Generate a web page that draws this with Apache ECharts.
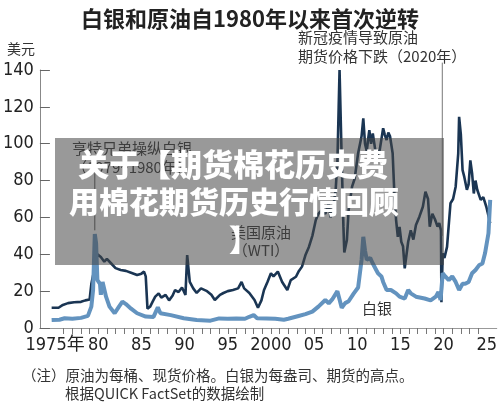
<!DOCTYPE html>
<html>
<head>
<meta charset="utf-8">
<script src="https://cdn.jsdelivr.net/npm/echarts@6/dist/echarts.min.js"></script>
<style>
    html, body { margin: 0; padding: 0; background: #fff; }
    #silverOilCharts { width: 500px; height: 405px; }
</style>
</head>
<body>
<div id="silverOilCharts"></div>
<script>
    // 美国原油（WTI）每桶价格，年份为小数
    const oilYears = [1974.6, 1975.4, 1975.9, 1976.5, 1977.2, 1978.0, 1978.5, 1979.0, 1979.2, 1979.6, 1979.9,
        1980.3, 1980.7, 1981.0, 1981.5, 1982.0, 1982.6, 1983.2, 1983.8, 1984.5, 1985.0, 1985.3, 1985.5, 1985.7,
        1986.0, 1986.3, 1986.6, 1987.0, 1987.3, 1987.8, 1988.2, 1988.6, 1988.9, 1989.3, 1989.7, 1990.1, 1990.3,
        1990.6, 1991.0, 1991.4, 1991.9, 1992.6, 1993.1, 1993.5, 1994.1, 1994.5, 1995.0, 1995.6, 1996.2, 1996.6,
        1996.9, 1997.5, 1998.1, 1998.5, 1998.9, 1999.2, 1999.6, 2000.0, 2000.3, 2000.8, 2001.3, 2001.9, 2002.3,
        2002.9, 2003.2, 2003.6, 2004.0, 2004.4, 2004.8, 2005.2, 2005.5, 2005.9, 2006.3, 2006.7, 2006.9, 2007.2,
        2007.5, 2007.7, 2007.85, 2007.95, 2008.2, 2008.4, 2008.5, 2008.8, 2009.0, 2009.4, 2009.7, 2010.1, 2010.5,
        2010.7, 2010.9, 2011.1, 2011.3, 2011.4, 2011.6, 2011.8, 2012.2, 2012.6, 2013.0, 2013.2, 2013.4, 2013.6,
        2013.8, 2013.95, 2014.1, 2014.3, 2014.5, 2014.7, 2014.9, 2015.1, 2015.3, 2015.5, 2015.9, 2016.2, 2016.5,
        2016.8, 2017.2, 2017.6, 2017.9, 2018.2, 2018.4, 2018.7, 2019.0, 2019.3, 2019.5, 2019.7, 2019.75, 2019.9,
        2020.1, 2020.4, 2020.8, 2021.1, 2021.4, 2021.7, 2021.8, 2022.0, 2022.2, 2022.4, 2022.7, 2022.9, 2023.1,
        2023.3, 2023.5, 2023.7, 2023.9, 2024.3, 2024.6, 2024.95, 2025.4]
    const oilPrices = [11, 11, 12.5, 13.5, 14, 14.2, 15, 15.5, 24, 33, 40,
        38.5, 36, 37.5, 35, 32.5, 31.5, 31, 30, 28.8, 29.5, 30.6, 28, 10.5,
        11.5, 14.3, 17, 18.8, 16.5, 18, 15, 17.5, 20.6, 19.5, 22, 18, 39.6,
        25, 21.5, 19, 21.5, 20, 18, 15.2, 18, 19, 20, 20.6, 21.5, 25,
        21.5, 19, 15.2, 11, 15, 20.6, 25, 29.7, 28, 30.6, 25, 20.6, 26,
        27.8, 30.6, 33.3, 39.6, 44, 50, 58.6, 62, 64, 62, 67.7, 60, 65,
        75, 90, 120, 140, 91, 55, 41, 47.7, 64, 76.7, 81, 94.8, 104,
        113.8, 100, 96, 103.8, 107.4, 100, 105.6, 93, 96.5, 108.4, 104.7, 102, 106,
        104, 105, 94.8, 73, 58.6, 49.5, 54.8, 46.8, 44.4, 32.4, 46.8, 53, 48,
        55.9, 60.4, 65.8, 74, 70, 55, 62, 59, 55, 57, 53, 14, 40.5,
        38, 44, 67.7, 70, 76.7, 94.8, 114.6, 105, 85.7, 82, 75, 78, 91,
        84, 73, 80, 75, 69.5, 71, 65.8, 56.8]

    // 白银每盎司期货高点
    const silverYears = [1974.6, 1975.5, 1976.1, 1977.0, 1978.0, 1978.8, 1979.2, 1979.4, 1979.6, 1979.75, 1979.9,
        1980.2, 1980.3, 1980.5, 1980.9, 1981.3, 1981.9, 1982.4, 1982.8, 1983.2, 1983.8, 1984.5, 1985.5, 1986.4,
        1986.9, 1987.2, 1988.4, 1989.9, 1991.4, 1993.0, 1994.0, 1995.0, 1996.0, 1997.0, 1997.5, 1998.0, 1998.4,
        1999.5, 2000.5, 2001.5, 2002.0, 2003.2, 2004.0, 2004.8, 2005.5, 2006.3, 2006.7, 2007.1, 2007.7, 2008.2,
        2008.6, 2009.0, 2009.6, 2010.1, 2010.5, 2010.7, 2010.9, 2011.1, 2011.5, 2011.8, 2012.4, 2012.8, 2013.0,
        2013.4, 2013.9, 2014.5, 2014.9, 2015.5, 2015.9, 2016.2, 2016.8, 2017.8, 2018.5, 2019.1, 2019.4, 2019.65,
        2019.9, 2020.2, 2020.6, 2021.0, 2021.4, 2021.8, 2022.2, 2022.5, 2022.9, 2023.3, 2023.7, 2024.1, 2024.5,
        2024.8, 2025.2, 2025.4]
    const silverPrices = [4.3, 4.5, 5.3, 5, 5.5, 6.6, 11.6, 20.6, 51, 46, 26,
        24, 18, 25, 17, 11.6, 8, 11.6, 14.3, 13, 10.5, 8, 6.2, 6,
        11.2, 8, 7, 5.3, 4.3, 4, 5.2, 5, 5.2, 5, 6.1, 7, 5.3,
        5.2, 5, 4.5, 5, 6.5, 7.5, 8.9, 11.6, 15.2, 13.4, 15.5, 20, 11,
        13.5, 14.5, 18.8, 22, 36.9, 49.5, 42, 37, 38, 35, 29.7, 28, 25,
        20.6, 20.6, 18.8, 17, 16, 20.6, 18.8, 17, 16, 15, 17, 19.5, 15.2,
        29.7, 28, 26, 28, 25, 20.6, 24, 24, 25, 29.7, 31.5, 34, 35,
        40.5, 51.4, 69.5]

    // 坐标轴刻度
    const yearTicks = []
    for (let y = 1976; y <= 2024; y++) yearTicks.push(y)
    const yearLabels = [1975, 1980, 1985, 1990, 1995, 2000, 2005, 2010, 2015, 2020, 2025]
    const yearLabelText = ['1975年', '80', '85', '90', '95', '2000', '05', '10', '15', '20', '25']
    const yTicks = [0, 20, 40, 60, 80, 100, 120, 140]

    const numFont = '"Liberation Sans Narrow", "DejaVu Sans Condensed", "Noto Sans CJK SC", sans-serif'
    const cjkFont = '"Noto Sans CJK SC", sans-serif'

    const _silverOilCharts = {
        animation: false,
        title: {
            text: '白银和原油自1980年以来首次逆转',
            left: 'center',
            top: 3,
            textStyle: {
                fontSize: 22,
                fontWeight: 'bold',
                color: '#222',
                fontFamily: cjkFont
            }
        },
        grid: {
            left: 38,
            right: 0,
            top: 70,
            bottom: 77
        },
        xAxis: {
            type: 'value',
            min: 1973.24,
            max: 2026.16,
            splitLine: {show: false},
            axisLine: {
                onZero: false,
                lineStyle: {color: '#999', width: 1}
            },
            axisTick: {
                customValues: yearTicks,
                length: 6,
                lineStyle: {color: '#777'}
            },
            axisLabel: {
                customValues: yearLabels,
                formatter: function (v) {
                    return yearLabelText[yearLabels.indexOf(Math.round(v))]
                },
                fontSize: 18,
                margin: 8,
                color: '#222',
                fontFamily: numFont
            }
        },
        yAxis: {
            type: 'value',
            min: 0,
            max: 140,
            interval: 20,
            splitLine: {show: false},
            axisLine: {
                show: true,
                lineStyle: {color: '#888', width: 1}
            },
            axisTick: {
                show: true,
                inside: true,
                length: 10,
                lineStyle: {color: '#666'}
            },
            axisLabel: {
                customValues: yTicks,
                fontSize: 18,
                margin: 6,
                color: '#222',
                fontFamily: numFont
            }
        },
        series: [
            {
                name: '美国原油（WTI）',
                type: 'line',
                showSymbol: false,
                data: oilYears.map((y, i) => [y, oilPrices[i]]),
                lineStyle: {color: '#1a3553', width: 2.6},
                z: 2
            },
            {
                name: '白银',
                type: 'line',
                showSymbol: false,
                data: silverYears.map((y, i) => [y, silverPrices[i]]),
                lineStyle: {color: '#6393bf', width: 4},
                z: 3
            }
        ]
    }

    const chart = echarts.init(document.getElementById('silverOilCharts'))
    chart.setOption(_silverOilCharts)

    // 注释线，按数据坐标换算
    const hunt = silverYears[silverPrices.indexOf(Math.max.apply(null, silverPrices.slice(0, 20)))]
    const huntBottom = chart.convertToPixel({gridIndex: 0}, [hunt, 53])
    const huntTop = chart.convertToPixel({gridIndex: 0}, [hunt, 84])
    const covidX = 2019.85
    const covidBottom = chart.convertToPixel({gridIndex: 0}, [covidX, 50])
    const covidTop = chart.convertToPixel({gridIndex: 0}, [covidX, 144])

    const noteStyle = {fontSize: 15, fill: '#333', fontFamily: cjkFont}
    chart.setOption({
        graphic: [
            {type: 'line', shape: {x1: huntBottom[0], y1: huntBottom[1], x2: huntTop[0], y2: huntTop[1]},
                style: {stroke: '#555', lineWidth: 1}, z: 10},
            {type: 'line', shape: {x1: covidBottom[0], y1: covidBottom[1], x2: covidTop[0], y2: covidTop[1]},
                style: {stroke: '#777', lineWidth: 1}, z: 10},
            {type: 'text', left: 7, top: 42, z: 10,
                style: {text: '美元', fontSize: 14, fill: '#333', fontFamily: cjkFont}},
            {type: 'text', left: 298, top: 28, z: 10,
                style: Object.assign({text: '新冠疫情导致原油\n期货价格下跌（2020年）', lineHeight: 19}, noteStyle)},
            {type: 'text', left: 72, top: 139, z: 10,
                style: Object.assign({text: '亨特兄弟操纵白银\n（1979~1980年）', lineHeight: 19}, noteStyle)},
            {type: 'text', x: 261, y: 223, z: 10,
                style: Object.assign({text: '美国原油\n（WTI）', lineHeight: 18, align: 'center'}, noteStyle)},
            {type: 'text', left: 362, top: 301, z: 10,
                style: Object.assign({text: '白银'}, noteStyle)},
            {type: 'text', left: 22, top: 368, z: 10,
                style: {text: '（注）原油为每桶、现货价格。白银为每盎司、期货的高点。', fontSize: 14.5, fill: '#333', fontFamily: cjkFont}},
            {type: 'text', left: 65, top: 386, z: 10,
                style: {text: '根据QUICK FactSet的数据绘制', fontSize: 14.5, fill: '#333', fontFamily: cjkFont}},
            // 半透明遮罩与标题文字
            {type: 'rect', shape: {x: 55, y: 138, width: 389, height: 127}, z: 50,
                style: {fill: 'rgba(70,70,70,0.55)'}},
            {type: 'text', x: 233, y: 164, z: 51,
                style: {text: '关于【期货棉花历史费', fontSize: 31, fontWeight: 900, fill: '#fff',
                    fontFamily: cjkFont, align: 'center', verticalAlign: 'middle'}},
            {type: 'text', x: 234, y: 202, z: 51,
                style: {text: '用棉花期货历史行情回顾', fontSize: 30, fontWeight: 900, fill: '#fff',
                    fontFamily: cjkFont, align: 'center', verticalAlign: 'middle'}},
            {type: 'text', x: 229, y: 240, z: 51,
                style: {text: '】', fontSize: 30, fontWeight: 900, fill: '#fff',
                    fontFamily: cjkFont, align: 'left', verticalAlign: 'middle'}}
        ]
    })

    window.addEventListener('resize', function () {
        chart.resize()
    })
</script>
</body>
</html>
